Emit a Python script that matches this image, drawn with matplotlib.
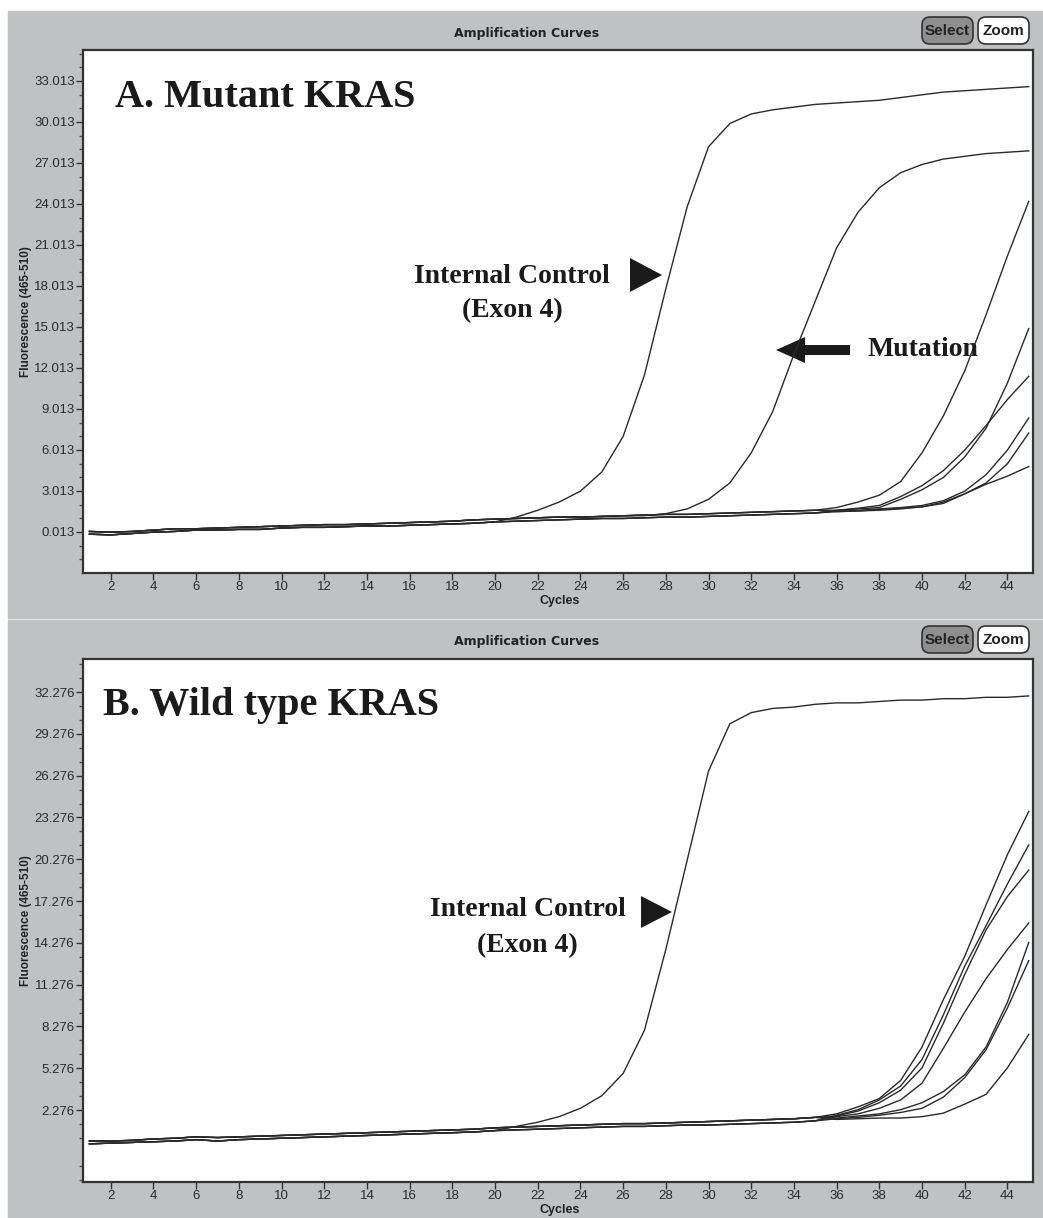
import numpy as np
import matplotlib.pyplot as plt
from matplotlib.patches import Rectangle, FancyBboxPatch, Polygon
from matplotlib.ticker import FixedLocator

W, H = 1043, 1218

cycles = np.arange(1, 46)

# --- panel A: mutant KRAS ---
# shared baselines, cycles 1-35 (two slightly offset ones give the grey band)
base_a_lo = [-0.15, -0.2, -0.1, 0.0, 0.05, 0.15, 0.15, 0.2, 0.2, 0.3,
             0.35, 0.35, 0.4, 0.45, 0.45, 0.5, 0.55, 0.6, 0.65, 0.75,
             0.8, 0.85, 0.9, 0.95, 1.0, 1.0, 1.05, 1.1, 1.1, 1.15,
             1.2, 1.25, 1.3, 1.35, 1.4]
base_a_hi = [0.05, 0.0, 0.05, 0.15, 0.25, 0.25, 0.3, 0.35, 0.4, 0.45,
             0.5, 0.55, 0.55, 0.6, 0.65, 0.7, 0.75, 0.8, 0.9, 0.95,
             1.0, 1.05, 1.1, 1.1, 1.15, 1.2, 1.25, 1.3, 1.3, 1.35,
             1.4, 1.45, 1.5, 1.55, 1.6]

# internal control, cycles 21-45
ic_a = [1.1, 1.6, 2.2, 3.0, 4.4, 7.0, 11.5, 17.8, 23.8, 28.2,
        29.9, 30.6, 30.9, 31.1, 31.3, 31.4, 31.5, 31.6, 31.8, 32.0,
        32.2, 32.3, 32.4, 32.5, 32.6]
# mutation, cycles 27-45
mut_a = [1.2, 1.35, 1.7, 2.4, 3.6, 5.8, 8.8, 13.0, 16.9, 20.8,
         23.4, 25.2, 26.3, 26.9, 27.3, 27.5, 27.7, 27.8, 27.9]
# late samples, cycles 36-45
late_a = [
    [1.8, 2.2, 2.7, 3.7, 5.8, 8.5, 11.8, 15.9, 20.2, 24.2],
    [1.6, 1.7, 1.8, 2.4, 3.1, 4.0, 5.5, 7.6, 10.9, 14.9],
    [1.6, 1.75, 1.95, 2.6, 3.4, 4.5, 6.0, 7.8, 9.7, 11.4],
    [1.55, 1.6, 1.7, 1.8, 1.95, 2.3, 3.0, 4.2, 6.0, 8.35],
    [1.5, 1.55, 1.65, 1.75, 1.85, 2.2, 2.8, 3.6, 5.0, 7.25],
    [1.5, 1.55, 1.6, 1.7, 1.85, 2.1, 2.8, 3.5, 4.1, 4.8],
]

# --- panel B: wild type KRAS ---
base_b_lo = [-0.15, -0.1, -0.05, 0.0, 0.05, 0.15, 0.05, 0.15, 0.2, 0.25,
             0.3, 0.35, 0.4, 0.45, 0.5, 0.55, 0.6, 0.65, 0.7, 0.8,
             0.85, 0.9, 0.95, 1.0, 1.05, 1.1, 1.1, 1.15, 1.2, 1.2,
             1.25, 1.3, 1.35, 1.4, 1.5]
base_b_hi = [0.05, 0.05, 0.1, 0.2, 0.25, 0.35, 0.3, 0.35, 0.4, 0.45,
             0.5, 0.55, 0.6, 0.65, 0.7, 0.75, 0.8, 0.85, 0.9, 1.0,
             1.05, 1.1, 1.15, 1.2, 1.25, 1.3, 1.3, 1.35, 1.4, 1.45,
             1.5, 1.55, 1.6, 1.65, 1.75]
ic_b = [1.1, 1.4, 1.8, 2.4, 3.3, 4.9, 8.0, 13.8, 20.2, 26.6,
        30.0, 30.8, 31.1, 31.2, 31.4, 31.5, 31.5, 31.6, 31.7, 31.7,
        31.8, 31.8, 31.9, 31.9, 32.0]
late_b = [
    [2.0, 2.5, 3.1, 4.4, 6.8, 10.2, 13.3, 17.0, 20.6, 23.7],
    [1.9, 2.3, 3.0, 4.0, 5.9, 9.1, 12.6, 15.5, 18.5, 21.3],
    [1.85, 2.2, 2.8, 3.7, 5.3, 8.5, 12.0, 15.2, 17.6, 19.5],
    [1.8, 2.0, 2.4, 3.0, 4.2, 6.7, 9.3, 11.7, 13.8, 15.7],
    [1.7, 1.85, 2.0, 2.3, 2.8, 3.6, 4.8, 6.8, 10.0, 14.3],
    [1.65, 1.75, 1.9, 2.1, 2.4, 3.2, 4.6, 6.6, 9.6, 13.0],
    [1.6, 1.65, 1.7, 1.7, 1.8, 2.05, 2.7, 3.4, 5.3, 7.7],
]

xticks = list(range(2, 45, 2))
yticks_a = [0.013, 3.013, 6.013, 9.013, 12.013, 15.013, 18.013, 21.013,
            24.013, 27.013, 30.013, 33.013]
yticks_b = [2.276, 5.276, 8.276, 11.276, 14.276, 17.276, 20.276, 23.276,
            26.276, 29.276, 32.276]


def build(base, tail):
    return np.array(base[:45 - len(tail)] + tail)


curves_a = [build(base_a_lo, ic_a), build(base_a_hi, mut_a)]
curves_a += [build(base_a_lo if i % 2 else base_a_hi, t) for i, t in enumerate(late_a)]
curves_b = [build(base_b_lo, ic_b)]
curves_b += [build(base_b_lo if i % 2 else base_b_hi, t) for i, t in enumerate(late_b)]

GREY = '#c0c1c3'
INK = '#222222'
SANS = 'Liberation Sans'
SERIF = 'Liberation Serif'

fig = plt.figure(figsize=(W / 100, H / 100), dpi=100, facecolor='white')
bg = fig.add_axes([0, 0, 1, 1])
bg.set_xlim(0, W)
bg.set_ylim(H, 0)
bg.axis('off')

panels = [
    dict(grey=(11, 618), top=50, bottom=573, ylim=(-2.99, 35.28), yt=yticks_a,
         curves=curves_a),
    dict(grey=(620, 1218), top=659, bottom=1182, ylim=(-2.89, 34.65), yt=yticks_b,
         curves=curves_b),
]

axes = []
for p in panels:
    g0, g1 = p['grey']
    bg.add_patch(Rectangle((8, g0), W - 8, g1 - g0, color=GREY, zorder=0))
    # header
    bg.text(527, g0 + 22, 'Amplification Curves', ha='center', va='center',
            fontsize=9, fontweight='bold', family='DejaVu Sans', color=INK)
    # buttons
    bg.add_patch(FancyBboxPatch((922, g0 + 6), 51, 27,
                                boxstyle='round,pad=0,rounding_size=8',
                                fc='#8e8e8e', ec='#333333', lw=1.2))
    bg.add_patch(FancyBboxPatch((978, g0 + 6), 51, 27,
                                boxstyle='round,pad=0,rounding_size=8',
                                fc='white', ec='#333333', lw=1.2))
    bg.text(947.5, g0 + 20, 'Select', ha='center', va='center', fontsize=11,
            fontweight='bold', family=SANS, color=INK)
    bg.text(1003.5, g0 + 20, 'Zoom', ha='center', va='center', fontsize=11,
            fontweight='bold', family=SANS, color=INK)
    # axis titles
    bg.text(560, p['bottom'] + 28, 'Cycles', ha='center', va='center',
            fontsize=9, fontweight='bold', family=SANS, color=INK)
    bg.text(26, (p['top'] + p['bottom']) / 2, 'Fluorescence (465-510)',
            ha='center', va='center', rotation=90, fontsize=8.5,
            fontweight='bold', family=SANS, color=INK)

    ax = fig.add_axes([83 / W, 1 - p['bottom'] / H, 950 / W,
                       (p['bottom'] - p['top']) / H])
    ax.set_zorder(2)
    ax.set_facecolor('white')
    for y in p['curves']:
        ax.plot(cycles, y, color='#2a2a2a', lw=1.0)
    ax.set_xlim(0.7, 45.2)
    ax.set_ylim(*p['ylim'])
    ax.set_xticks(xticks)
    ax.set_yticks(p['yt'])
    ax.set_yticklabels([f'{v:.3f}' for v in p['yt']])
    lo, hi = p['ylim']
    minors = [p['yt'][0] + k for k in range(-5, 36)
              if lo < p['yt'][0] + k < hi and k % 3 != 0]
    ax.yaxis.set_minor_locator(FixedLocator(minors))
    ax.tick_params(which='major', direction='out', length=5, width=1,
                   color='#333333', labelsize=9.5, labelcolor='#2a2a2a', pad=1)
    ax.tick_params(which='minor', direction='out', length=3, width=1,
                   color='#555555')
    for lab in ax.get_xticklabels() + ax.get_yticklabels():
        lab.set_family(SANS)
    for s in ax.spines.values():
        s.set_color('#333333')
        s.set_linewidth(1.6)
    axes.append(ax)

axA, axB = axes
tA = axA.transAxes
tB = axB.transAxes

bold_serif = dict(family=SERIF, fontweight='bold', color='#1a1a1a')

axA.text(0.0337, 0.891, 'A. Mutant KRAS', transform=tA, fontsize=29,
         va='baseline', ha='left', **bold_serif)
axA.text(0.4516, 0.5545, 'Internal Control', transform=tA, fontsize=20,
         va='baseline', ha='center', **bold_serif)
axA.text(0.4516, 0.4895, '(Exon 4)', transform=tA, fontsize=20,
         va='baseline', ha='center', **bold_serif)
axA.add_patch(Polygon([(0.5758, 0.6023), (0.5758, 0.5373), (0.6095, 0.5698)],
                      closed=True, transform=tA, fc='#1a1a1a', ec='none'))
axA.add_patch(Polygon([(0.7295, 0.4264), (0.7600, 0.4512), (0.7600, 0.4359),
                       (0.8074, 0.4359), (0.8074, 0.4168), (0.7600, 0.4168),
                       (0.7600, 0.4015)],
                      closed=True, transform=tA, fc='#1a1a1a', ec='none'))
axA.text(0.8253, 0.4149, 'Mutation', transform=tA, fontsize=20,
         va='baseline', ha='left', **bold_serif)

axB.text(0.021, 0.893, 'B. Wild type KRAS', transform=tB, fontsize=29,
         va='baseline', ha='left', **bold_serif)
axB.text(0.4684, 0.5086, 'Internal Control', transform=tB, fontsize=20,
         va='baseline', ha='center', **bold_serif)
axB.text(0.4674, 0.4398, '(Exon 4)', transform=tB, fontsize=20,
         va='baseline', ha='center', **bold_serif)
axB.add_patch(Polygon([(0.5874, 0.5468), (0.5874, 0.4857), (0.6200, 0.5163)],
                      closed=True, transform=tB, fc='#1a1a1a', ec='none'))

fig.savefig('out.png', dpi=100, facecolor='white')
